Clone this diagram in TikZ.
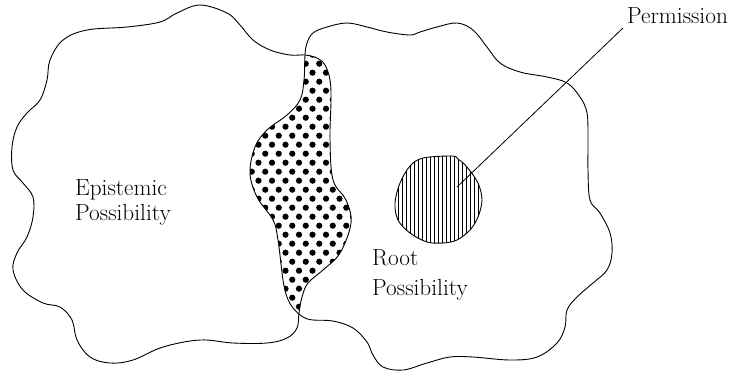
\documentclass[tikz,border=0pt]{standalone}
\begin{document}
\begin{tikzpicture}[x=1pt,y=-1pt,
  blob/.style={line width=0.9pt, line join=round},
  lbl/.style={inner sep=0pt, anchor=base west, font=\fontsize{23.3}{25}\selectfont},
  dotmark/.style={fill=black},
  stripe/.style={line width=0.55pt}]
\useasboundingbox (0,0) rectangle (733,376);
\def\LeftBlob{plot[smooth cycle, tension=0.6] coordinates {
 (200,5) (227,13) (240,25) (253,40) (270,50) (290,55) (305,55) (317,58) (325,65) (330,80)
 (331,100) (330,140) (333,180) (346,200) (351,223) (340,253) (323,270) (308,283) (302,297)
 (299,313) (297,328) (287,338) (267,343) (233,343) (200,340) (163,347) (133,360) (110,363)
 (90,357) (77,340) (72,320) (60,307) (43,303) (23,290) (13,270) (17,253) (27,237) (33,217)
 (33,197) (23,183) (13,170) (12,147) (17,127) (27,113) (40,100) (47,80) (50,60) (63,40)
 (87,30) (127,27) (160,22) (177,13)}}
\def\RightBlob{plot[smooth cycle, tension=0.6] coordinates {
 (305,55) (307,43) (313,33) (327,27) (347,23) (367,27) (387,32) (410,35) (420,32) (437,27)
 (457,23) (473,30) (487,47) (500,63) (520,72) (547,77) (567,83) (580,97) (587,113) (588,140)
 (588,170) (590,200) (600,213) (610,233) (612,253) (607,270) (593,283) (577,297) (567,310)
 (565,327) (557,343) (537,357) (510,360) (473,357) (450,357) (427,363) (403,370) (383,367)
 (373,355) (367,342) (353,328) (333,321) (313,320) (303,317) (293,308) (287,297) (283,280)
 (278,240) (273,220) (257,197) (250,173) (255,147) (267,130) (287,115) (300,100) (304,80)}}
\def\PermBlob{plot[smooth cycle, tension=0.55] coordinates {
 (423,158) (452,156) (458,159) (467,167) (478,183) (482,200) (478,217) (470,230) (457,240)
 (443,243) (427,242) (410,233) (398,220) (395,203) (400,183) (410,166)}}
% dotted intersection
\begin{scope}
 \clip \LeftBlob;
 \clip \RightBlob;
 \foreach \j in {-14,...,20}{
  \foreach \i in {-6,...,6}{
   \pgfmathsetmacro{\xx}{299+13.5*\i+6.75*mod(abs(\j),2)}
   \pgfmathsetmacro{\yy}{162.7+9*\j}
   \fill[dotmark] (\xx,\yy) circle (3.1);
  }
 }
\end{scope}
% striped permission region
\begin{scope}
 \clip \PermBlob;
 \foreach \k in {0,...,23}{
  \draw[stripe] (394+4*\k,150) -- (394+4*\k,250);
 }
\end{scope}
\draw[blob] \LeftBlob;
\draw[blob] \RightBlob;
\draw[blob] \PermBlob;
% labels
\node[lbl] (epi1) at (75,195) {Epistemic};
\node[lbl] (epi2) at (75,220) {Possibility};
\node[lbl] (root1) at (372,265) {Root};
\node[lbl] (root2) at (372,295) {Possibility};
\node[lbl] (perm) at (627,23) {Permission};
\coordinate (pin) at (457,187);
\coordinate (pend) at (623,28);
\draw[line width=0.8pt] (pin) -- (pend);
\end{tikzpicture}
\end{document}
